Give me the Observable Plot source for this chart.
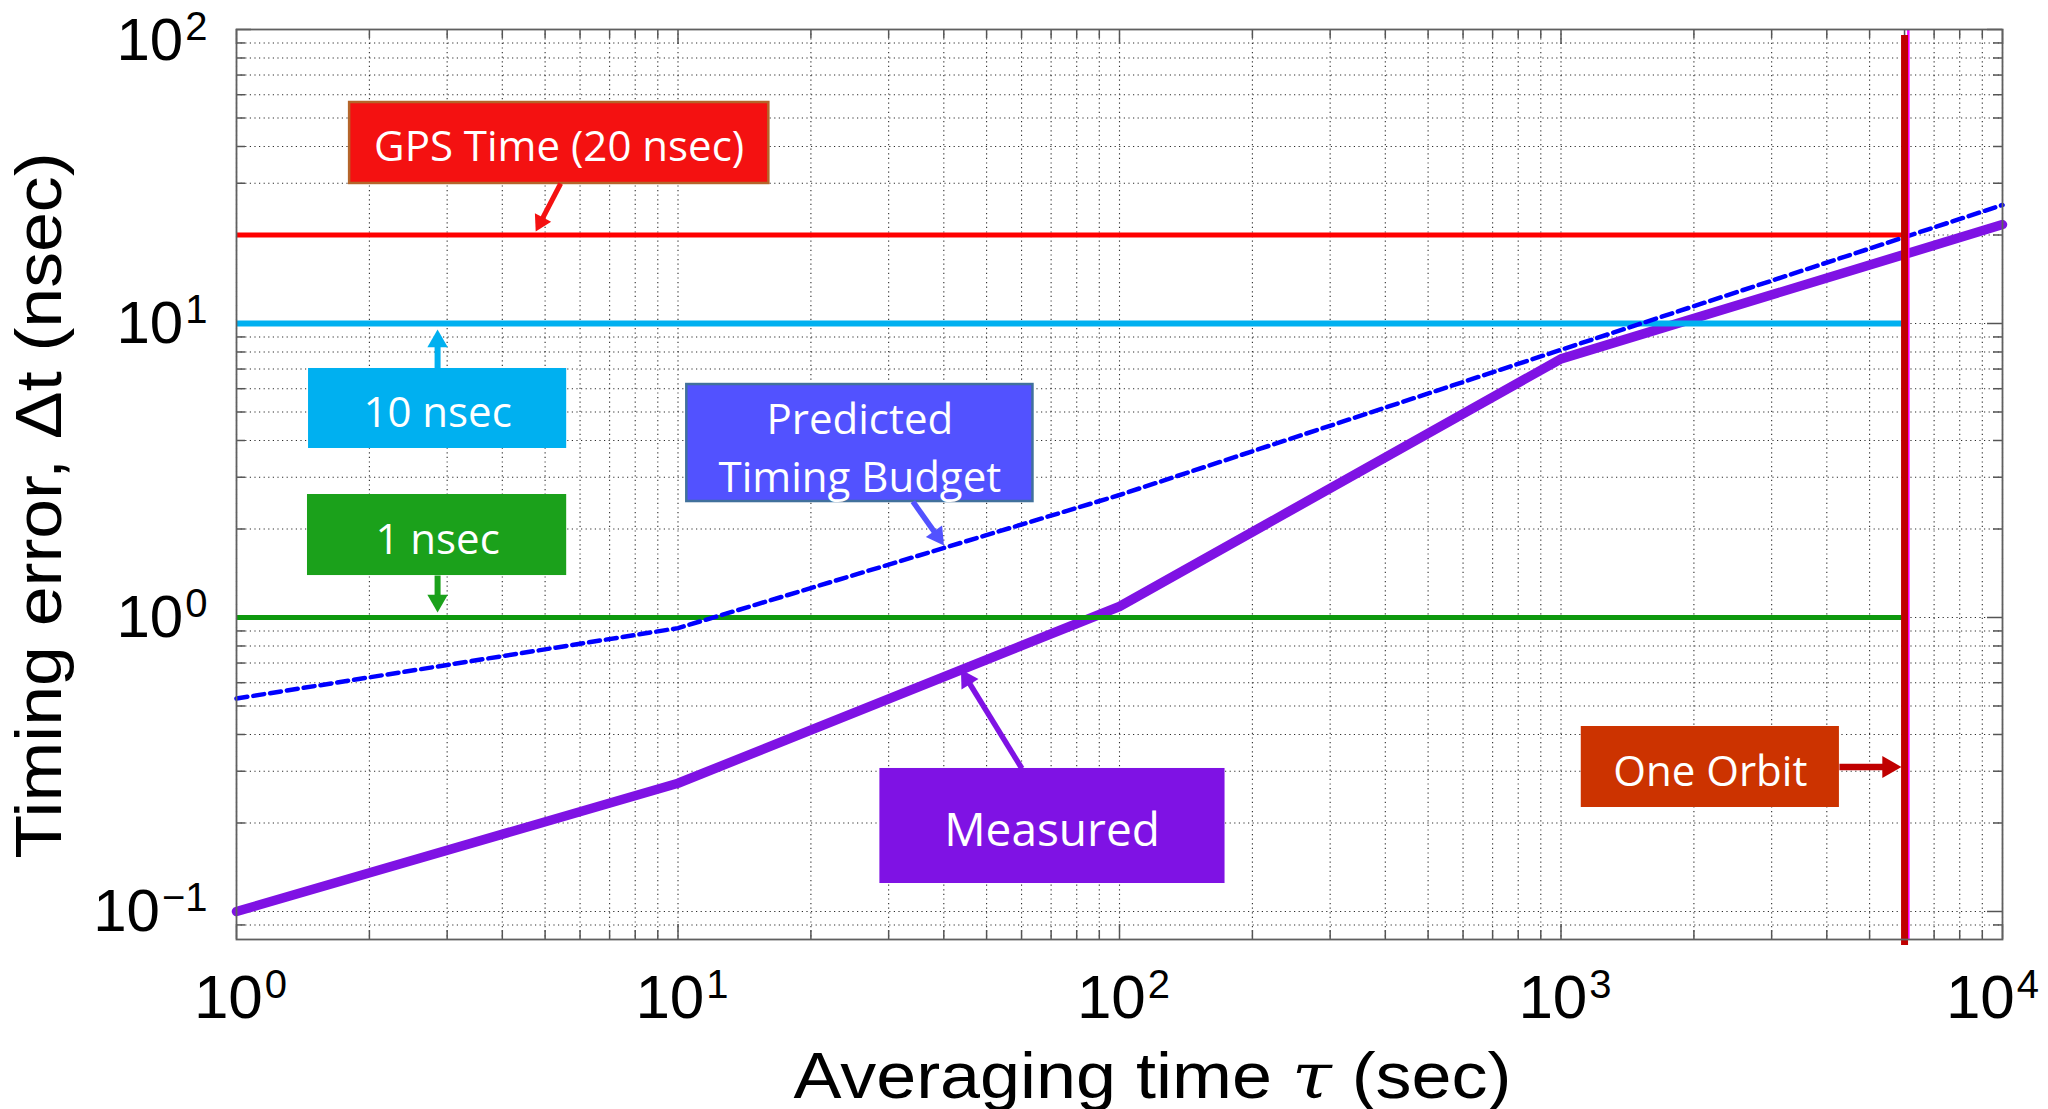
<!DOCTYPE html>
<html>
<head>
<meta charset="utf-8">
<script src="https://cdn.jsdelivr.net/npm/d3@7"></script>
<script src="https://cdn.jsdelivr.net/npm/@observablehq/plot@0.6"></script>
<style>
  html, body { margin: 0; padding: 0; background: #fff; }
  #chart { width: 2048px; height: 1109px; }
</style>
</head>
<body>
<div id="chart"></div>
<script>
// ---------------- data ----------------
const tau = [1, 10, 100, 1000, 10000];                 // averaging time (sec)
const predicted = [0.53, 0.92, 2.61, 8.14, 25.3];      // predicted timing budget (nsec)
const measured = [0.1, 0.273, 1.09, 7.58, 21.7];       // measured timing error (nsec)
const refLevels = [20, 10, 1];                         // GPS time, 10 nsec, 1 nsec
const orbitTime = 6000;                                // one orbit (sec)
const xTickValues = [1, 10, 100, 1000, 10000];
const yTickValues = [0.1, 1, 10, 100];
const xTitle = "Averaging time τ (sec)";
const yTitle = "Timing error, Δt (nsec)";

const boxLabels = ["GPS Time (20 nsec)", "10 nsec", "1 nsec", "Predicted\nTiming Budget", "Measured", "One Orbit"];

// ---------------- layout ----------------
const W = 2048, H = 1109, mL = 236, mR = 46, mT = 29, mB = 170;
const xDomain = [1, 1e4], yDomain = [0.0803, 100];
const frameW = W - mL - mR, frameH = H - mT - mB;

// annotation boxes (data coordinates) and arrows (start -> tip)
const boxes = [
  {label: boxLabels[0], x1: 1.804, x2: 16.06, y1: 29.94, y2: 56.45, tx: 5.38, ty: 41.27, fill: "#F41111", stroke: "#B5652A", fs: 42},
  {label: boxLabels[1], x1: 1.456, x2: 5.596, y1: 3.757, y2: 7.03, tx: 2.854, ty: 5.139, fill: "#00B0F0", stroke: "none", fs: 42},
  {label: boxLabels[2], x1: 1.448, x2: 5.596, y1: 1.389, y2: 2.62, tx: 2.854, ty: 1.908, fill: "#1BA11B", stroke: "none", fs: 42},
  {label: boxLabels[3], x1: 10.47, x2: 63.68, y1: 2.48, y2: 6.20, tx: 25.82, ty: 3.877, fill: "#5252FF", stroke: "#41719C", fs: 42},
  {label: boxLabels[4], x1: 28.66, x2: 173.4, y1: 0.1245, y2: 0.3065, tx: 70.33, ty: 0.1953, fill: "#7F12E4", stroke: "none", fs: 46},
  {label: boxLabels[5], x1: 1111.5, x2: 4272, y1: 0.2258, y2: 0.4258, tx: 2179, ty: 0.3101, fill: "#CC3300", stroke: "none", fs: 42}
];
const arrows = [
  {x1: 5.424, y1: 29.94, x2: 4.761, y2: 20.55, color: "#F41111", w: 5, r: 6.8},
  {x1: 2.854, y1: 7.03, x2: 2.854, y2: 9.54, color: "#00B0F0", w: 6, r: 7.6},
  {x1: 2.854, y1: 1.389, x2: 2.854, y2: 1.040, color: "#1BA11B", w: 6, r: 7.6},
  {x1: 34.04, y1: 2.48, x2: 40.03, y2: 1.758, color: "#5252FF", w: 5.5, r: 7.4},
  {x1: 60.11, y1: 0.3065, x2: 43.74, y2: 0.6654, color: "#7F12E4", w: 5.5, r: 7.4},
  {x1: 4272, y1: 0.3101, x2: 5904, y2: 0.3101, color: "#C00000", w: 6.5, r: 8.2}
];

// ---------------- derived ----------------
const series = tau.map((t, i) => ({tau: t, predicted: predicted[i], measured: measured[i]}));
const refColors = ["#FF0000", "#00B0F0", "#0E990E"];
const refWidths = [5, 6, 5];

function logTicks(e0, e1, lo, hi) {
  const out = [];
  for (let e = e0; e <= e1; e++) for (let m = 1; m <= 9; m++) {
    const v = +(m + "e" + e);
    if (v >= lo && v <= hi) out.push(v);
  }
  return out;
}
const xAll = logTicks(0, 4, 1, 1e4);
const yAll = logTicks(-2, 2, yDomain[0], 100);
const isMajor = v => Math.abs(Math.log10(v) - Math.round(Math.log10(v))) < 1e-9;
const xMinor = xAll.filter(v => !isMajor(v)), xMajor = xAll.filter(isMajor);
const yMinor = yAll.filter(v => !isMajor(v)), yMajor = yAll.filter(isMajor);

const sx = Plot.scale({x: {type: "log", domain: xDomain, range: [mL, W - mR]}});
const sy = Plot.scale({y: {type: "log", domain: yDomain, range: [H - mB, mT]}});
const arrowGeom = arrows.map(a => {
  const px0 = sx.apply(a.x1), py0 = sy.apply(a.y1), px1 = sx.apply(a.x2), py1 = sy.apply(a.y2);
  const dx = px1 - px0, dy = py1 - py0, L = Math.hypot(dx, dy), ux = dx / L, uy = dy / L;
  const k = 0.7776 * a.r;
  return {
    ...a,
    angle: Math.atan2(dx, -dy) * 180 / Math.PI,
    cx: sx.invert(px1 - 2 * k * ux), cy: sy.invert(py1 - 2 * k * uy),
    ex: sx.invert(px1 - 2.4 * k * ux), ey: sy.invert(py1 - 2.4 * k * uy)
  };
});

const expFmt = d => { const e = Math.round(Math.log10(d)); return "10^" + (e < 0 ? "\u2212" + (-e) : e); };
const tickColor = "#555";
const gridStyle = {stroke: "#222", strokeOpacity: 0.95, strokeWidth: 1.1, strokeDasharray: "1.2,3.4"};

const marks = [
  Plot.gridX(xAll, gridStyle),
  Plot.gridY(yAll, gridStyle),
  // inward ticks on all four sides
  Plot.tickX(xMinor, {x: d => d, insetTop: frameH - 9, stroke: tickColor, strokeWidth: 1.5}),
  Plot.tickX(xMajor, {x: d => d, insetTop: frameH - 15, stroke: tickColor, strokeWidth: 1.5}),
  Plot.tickX(xMinor, {x: d => d, insetBottom: frameH - 9, stroke: tickColor, strokeWidth: 1.5}),
  Plot.tickX(xMajor, {x: d => d, insetBottom: frameH - 15, stroke: tickColor, strokeWidth: 1.5}),
  Plot.tickY(yMinor, {y: d => d, insetRight: frameW - 9, stroke: tickColor, strokeWidth: 1.5}),
  Plot.tickY(yMajor, {y: d => d, insetRight: frameW - 15, stroke: tickColor, strokeWidth: 1.5}),
  Plot.tickY(yMinor, {y: d => d, insetLeft: frameW - 9, stroke: tickColor, strokeWidth: 1.5}),
  Plot.tickY(yMajor, {y: d => d, insetLeft: frameW - 15, stroke: tickColor, strokeWidth: 1.5}),
  // measured
  Plot.line(series, {x: "tau", y: "measured", stroke: "#7F12E4", strokeWidth: 9.5}),
  // reference levels
  ...refLevels.map((v, i) => Plot.ruleY([v], {x1: 1, x2: orbitTime, stroke: refColors[i], strokeWidth: refWidths[i]})),
  // predicted
  Plot.line(series, {x: "tau", y: "predicted", stroke: "#0000FF", strokeWidth: 4.5, strokeDasharray: "11,6"}),
  // one orbit line
  Plot.ruleX([orbitTime * 1.02], {y1: yDomain[0], y2: 100, stroke: "#FF00FF", strokeWidth: 2.5}),
  Plot.ruleX([orbitTime], {y1: 0.0766, y2: 95.4, stroke: "#C00000", strokeWidth: 7}),
  Plot.frame({stroke: "#606060", strokeWidth: 1.8}),
  // axes labels
  Plot.axisX(xTickValues, {anchor: "bottom", tickSize: 0, tickPadding: 34, tickFormat: expFmt, fontSize: 62, label: null, dx: 4}),
  Plot.axisY(yTickValues, {anchor: "left", tickSize: 0, tickPadding: 29, tickFormat: expFmt, fontSize: 60, label: null}),
  Plot.text([xTitle], {frameAnchor: "bottom", textAnchor: "middle", lineAnchor: "bottom", dx: 33, dy: 158, fontSize: 64, fill: "black"}),
  Plot.text([yTitle], {frameAnchor: "left", textAnchor: "middle", lineAnchor: "middle", rotate: -90, dx: 40.5 - mL, dy: 21, fontSize: 64, fill: "black"})
];

// annotation boxes, texts and arrows
for (const b of boxes) {
  marks.push(Plot.rect([b], {x1: "x1", x2: "x2", y1: "y1", y2: "y2", fill: b.fill, stroke: b.stroke, strokeWidth: 2.5}));
  marks.push(Plot.text([b], {x: "tx", y: "ty", text: "label", fill: "white", fontSize: b.fs, fontFamily: "'Open Sans', sans-serif", lineHeight: 1.38, textAnchor: "middle", lineAnchor: "middle"}));
}
for (const a of arrowGeom) {
  marks.push(Plot.link([a], {x1: "x1", y1: "y1", x2: "ex", y2: "ey", stroke: a.color, strokeWidth: a.w, strokeLinecap: "butt"}));
  marks.push(Plot.dot([a], {x: "cx", y: "cy", symbol: "triangle", r: a.r, fill: a.color, stroke: "none", rotate: a.angle}));
}

const chart = Plot.plot({
  width: W, height: H,
  marginLeft: mL, marginRight: mR, marginTop: mT, marginBottom: mB,
  x: {type: "log", domain: xDomain},
  y: {type: "log", domain: yDomain},
  style: {background: "white", fontFamily: "'Liberation Sans', Arial, sans-serif", overflow: "visible"},
  marks
});

// superscript exponents, italic tau, title lengths
const NS = "http://www.w3.org/2000/svg";
chart.querySelectorAll("text").forEach(t => {
  const s = t.textContent;
  if (s.startsWith("10^")) {
    const isY = (t.parentNode.getAttribute("aria-label") || "").includes("y-axis");
    const exp = s.slice(3);
    t.textContent = "";
    const a = document.createElementNS(NS, "tspan");
    a.textContent = "10";
    if (isY && exp === "2") a.setAttribute("dy", 11);
    if (!isY && exp === "4") a.setAttribute("dx", -14);
    const b = document.createElementNS(NS, "tspan");
    b.textContent = exp;
    b.setAttribute("font-size", 40);
    b.setAttribute("dy", -20);
    b.setAttribute("dx", 2);
    t.appendChild(a); t.appendChild(b);
  } else if (s === xTitle) {
    const [pre, post] = s.split("τ");
    t.textContent = "";
    const p1 = document.createElementNS(NS, "tspan"); p1.textContent = pre;
    const p2 = document.createElementNS(NS, "tspan"); p2.textContent = "τ";
    p2.setAttribute("font-style", "italic"); p2.setAttribute("font-family", "'DejaVu Serif', serif");
    const p3 = document.createElementNS(NS, "tspan"); p3.textContent = post;
    t.appendChild(p1); t.appendChild(p2); t.appendChild(p3);
    t.setAttribute("textLength", 718); t.setAttribute("lengthAdjust", "spacingAndGlyphs");
  } else if (s === yTitle) {
    t.setAttribute("textLength", 706); t.setAttribute("lengthAdjust", "spacingAndGlyphs");
  }
});

document.getElementById("chart").appendChild(chart);
</script>
</body>
</html>
